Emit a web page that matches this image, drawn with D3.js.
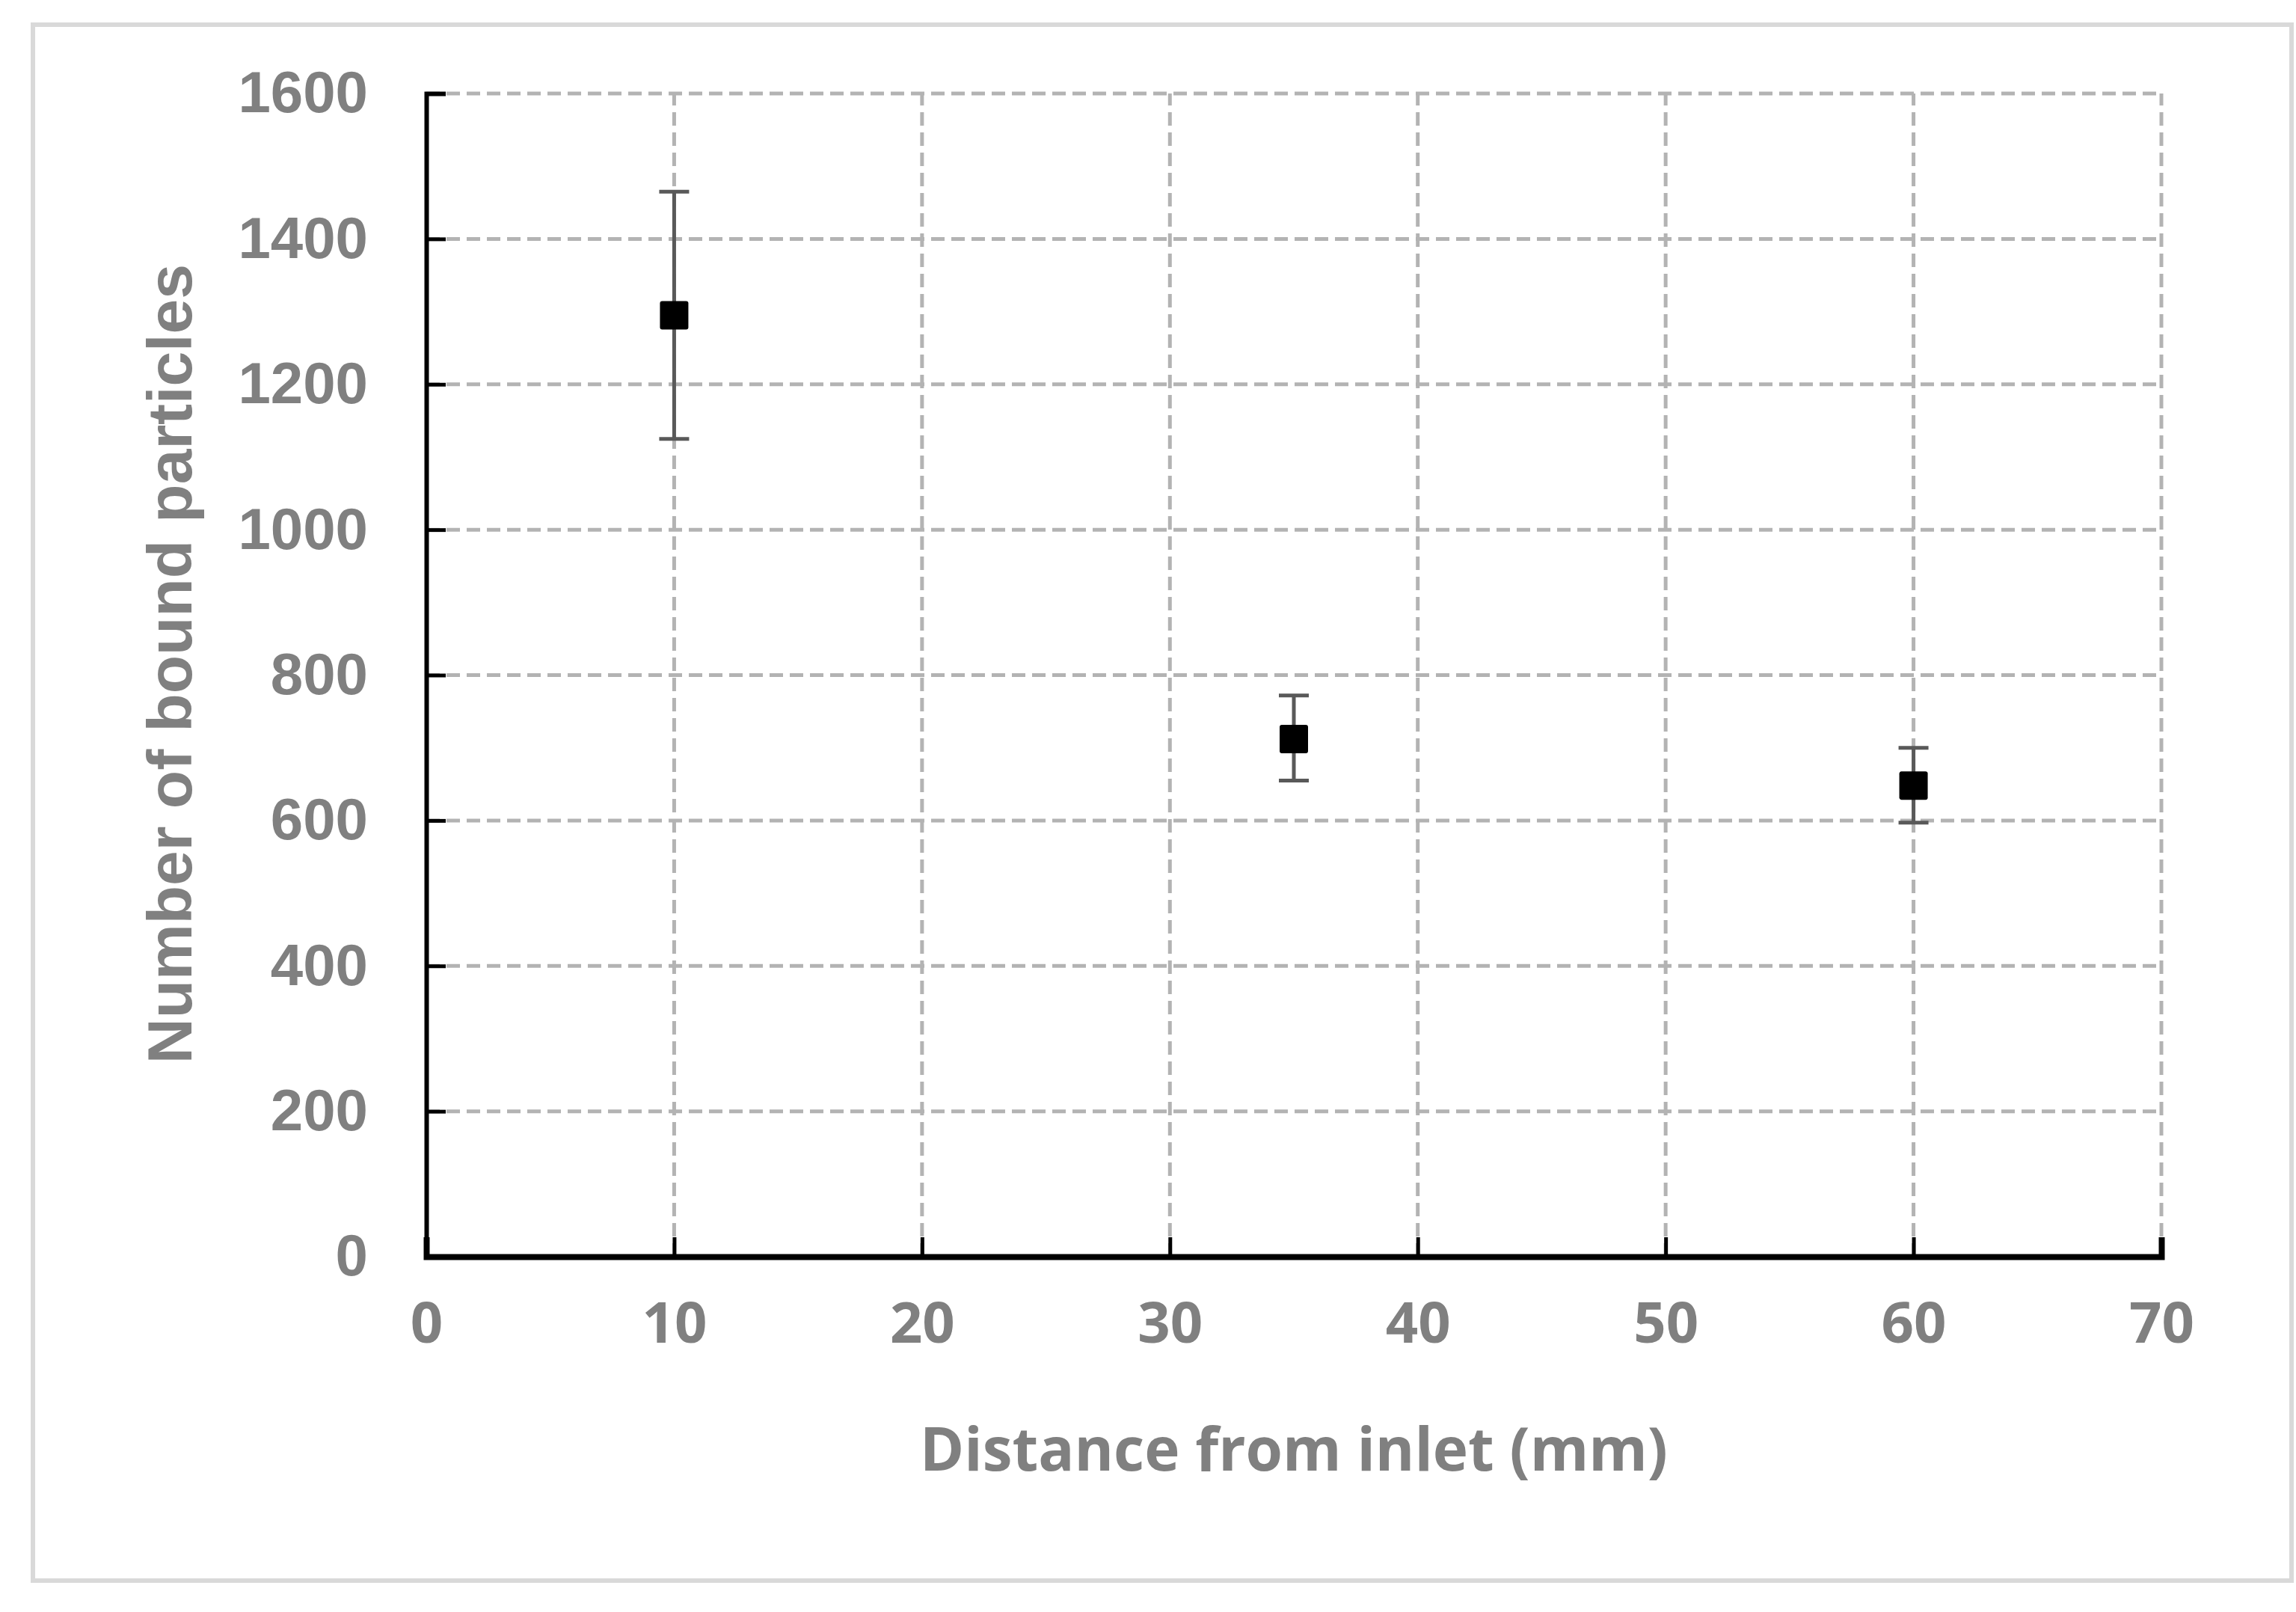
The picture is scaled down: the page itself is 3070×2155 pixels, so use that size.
<!DOCTYPE html>
<html><head><meta charset="utf-8">
<script src="https://cdn.jsdelivr.net/npm/d3@7"></script>
<style>body{margin:0;background:#fff}</style>
</head><body><div id="chart"></div>
<script>
const distance = [10, 35, 60];
const particles = [1295, 712, 648];
const errUp = [170, 60, 52];
const errDown = [170, 57, 51];
const xTicks = [0, 10, 20, 30, 40, 50, 60, 70];
const yTicks = [0, 200, 400, 600, 800, 1000, 1200, 1400, 1600];

const W = 3070, H = 2155;
const m = {left: 570, right: 3070 - 2890, top: 125, bottom: H - 1680};

const svg = d3.select('#chart').append('svg').attr('width', W).attr('height', H);

// outer frame
svg.append('rect').attr('x', 44).attr('y', 33).attr('width', 3020).attr('height', 2080)
  .attr('fill', 'none').attr('stroke', '#d9d9d9').attr('stroke-width', 6);

const x = d3.scaleLinear().domain([0, 70]).range([m.left, W - m.right]);
const y = d3.scaleLinear().domain([0, 1600]).range([H - m.bottom, m.top]);

const grid = svg.append('g').attr('stroke', '#b3b3b3').attr('stroke-width', 5).attr('stroke-dasharray', '18,9');
grid.selectAll('.gy').data(yTicks.slice(1)).enter().append('line')
  .attr('x1', x(0)).attr('x2', x(70)).attr('y1', d => y(d)).attr('y2', d => y(d));
grid.selectAll('.gx').data(xTicks.slice(1)).enter().append('line')
  .attr('x1', d => x(d)).attr('x2', d => x(d)).attr('y1', y(0)).attr('y2', y(1600));

// axes
const yAxis = svg.append('g').attr('transform', `translate(${x(0)},0)`)
  .call(d3.axisLeft(y).tickValues(yTicks).tickFormat(d3.format('d')).tickSize(-26).tickPadding(78));
const xAxis = svg.append('g').attr('transform', `translate(0,${y(0)})`)
  .call(d3.axisBottom(x).tickValues(xTicks).tickSize(-26).tickPadding(92));
[yAxis, xAxis].forEach(a => {
  a.select('.domain').attr('stroke', '#000').attr('stroke-width', 6);
  a.selectAll('.tick line').attr('stroke', '#000').attr('stroke-width', 5);
});
yAxis.selectAll('.tick text').attr('fill', '#808080')
  .style('font', 'bold 78px "Liberation Sans", Arial, sans-serif');
xAxis.selectAll('.tick text').attr('fill', '#808080')
  .style('font', 'bold 76px "Open Sans", sans-serif').attr('dy', '0.3em');
xAxis.select('.domain').attr('stroke-width', 8);

// error bars
const eb = svg.append('g').attr('stroke', '#595959').attr('stroke-width', 5);
distance.forEach((d, i) => {
  const top = y(particles[i] + errUp[i]), bot = y(particles[i] - errDown[i]);
  eb.append('line').attr('x1', x(d)).attr('x2', x(d)).attr('y1', top).attr('y2', bot);
  eb.append('line').attr('x1', x(d) - 20).attr('x2', x(d) + 20).attr('y1', top).attr('y2', top);
  eb.append('line').attr('x1', x(d) - 20).attr('x2', x(d) + 20).attr('y1', bot).attr('y2', bot);
});

svg.selectAll('.pt').data(distance).enter().append('rect')
  .attr('x', d => x(d) - 19).attr('y', (d, i) => y(particles[i]) - 19)
  .attr('width', 38).attr('height', 38).attr('rx', 3).attr('fill', '#000');

svg.append('text').attr('x', (x(0) + x(70)) / 2).attr('y', 1966)
  .attr('text-anchor', 'middle').attr('fill', '#808080')
  .style('font', 'bold 80px "Open Sans", sans-serif')
  .text('Distance from inlet (mm)');

svg.append('text').attr('transform', `translate(256,${(y(0) + y(1600)) / 2 - 15}) rotate(-90)`)
  .attr('text-anchor', 'middle').attr('fill', '#808080')
  .style('font', 'bold 84px "Liberation Sans", Arial, sans-serif')
  .text('Number of bound particles');
</script></body></html>
